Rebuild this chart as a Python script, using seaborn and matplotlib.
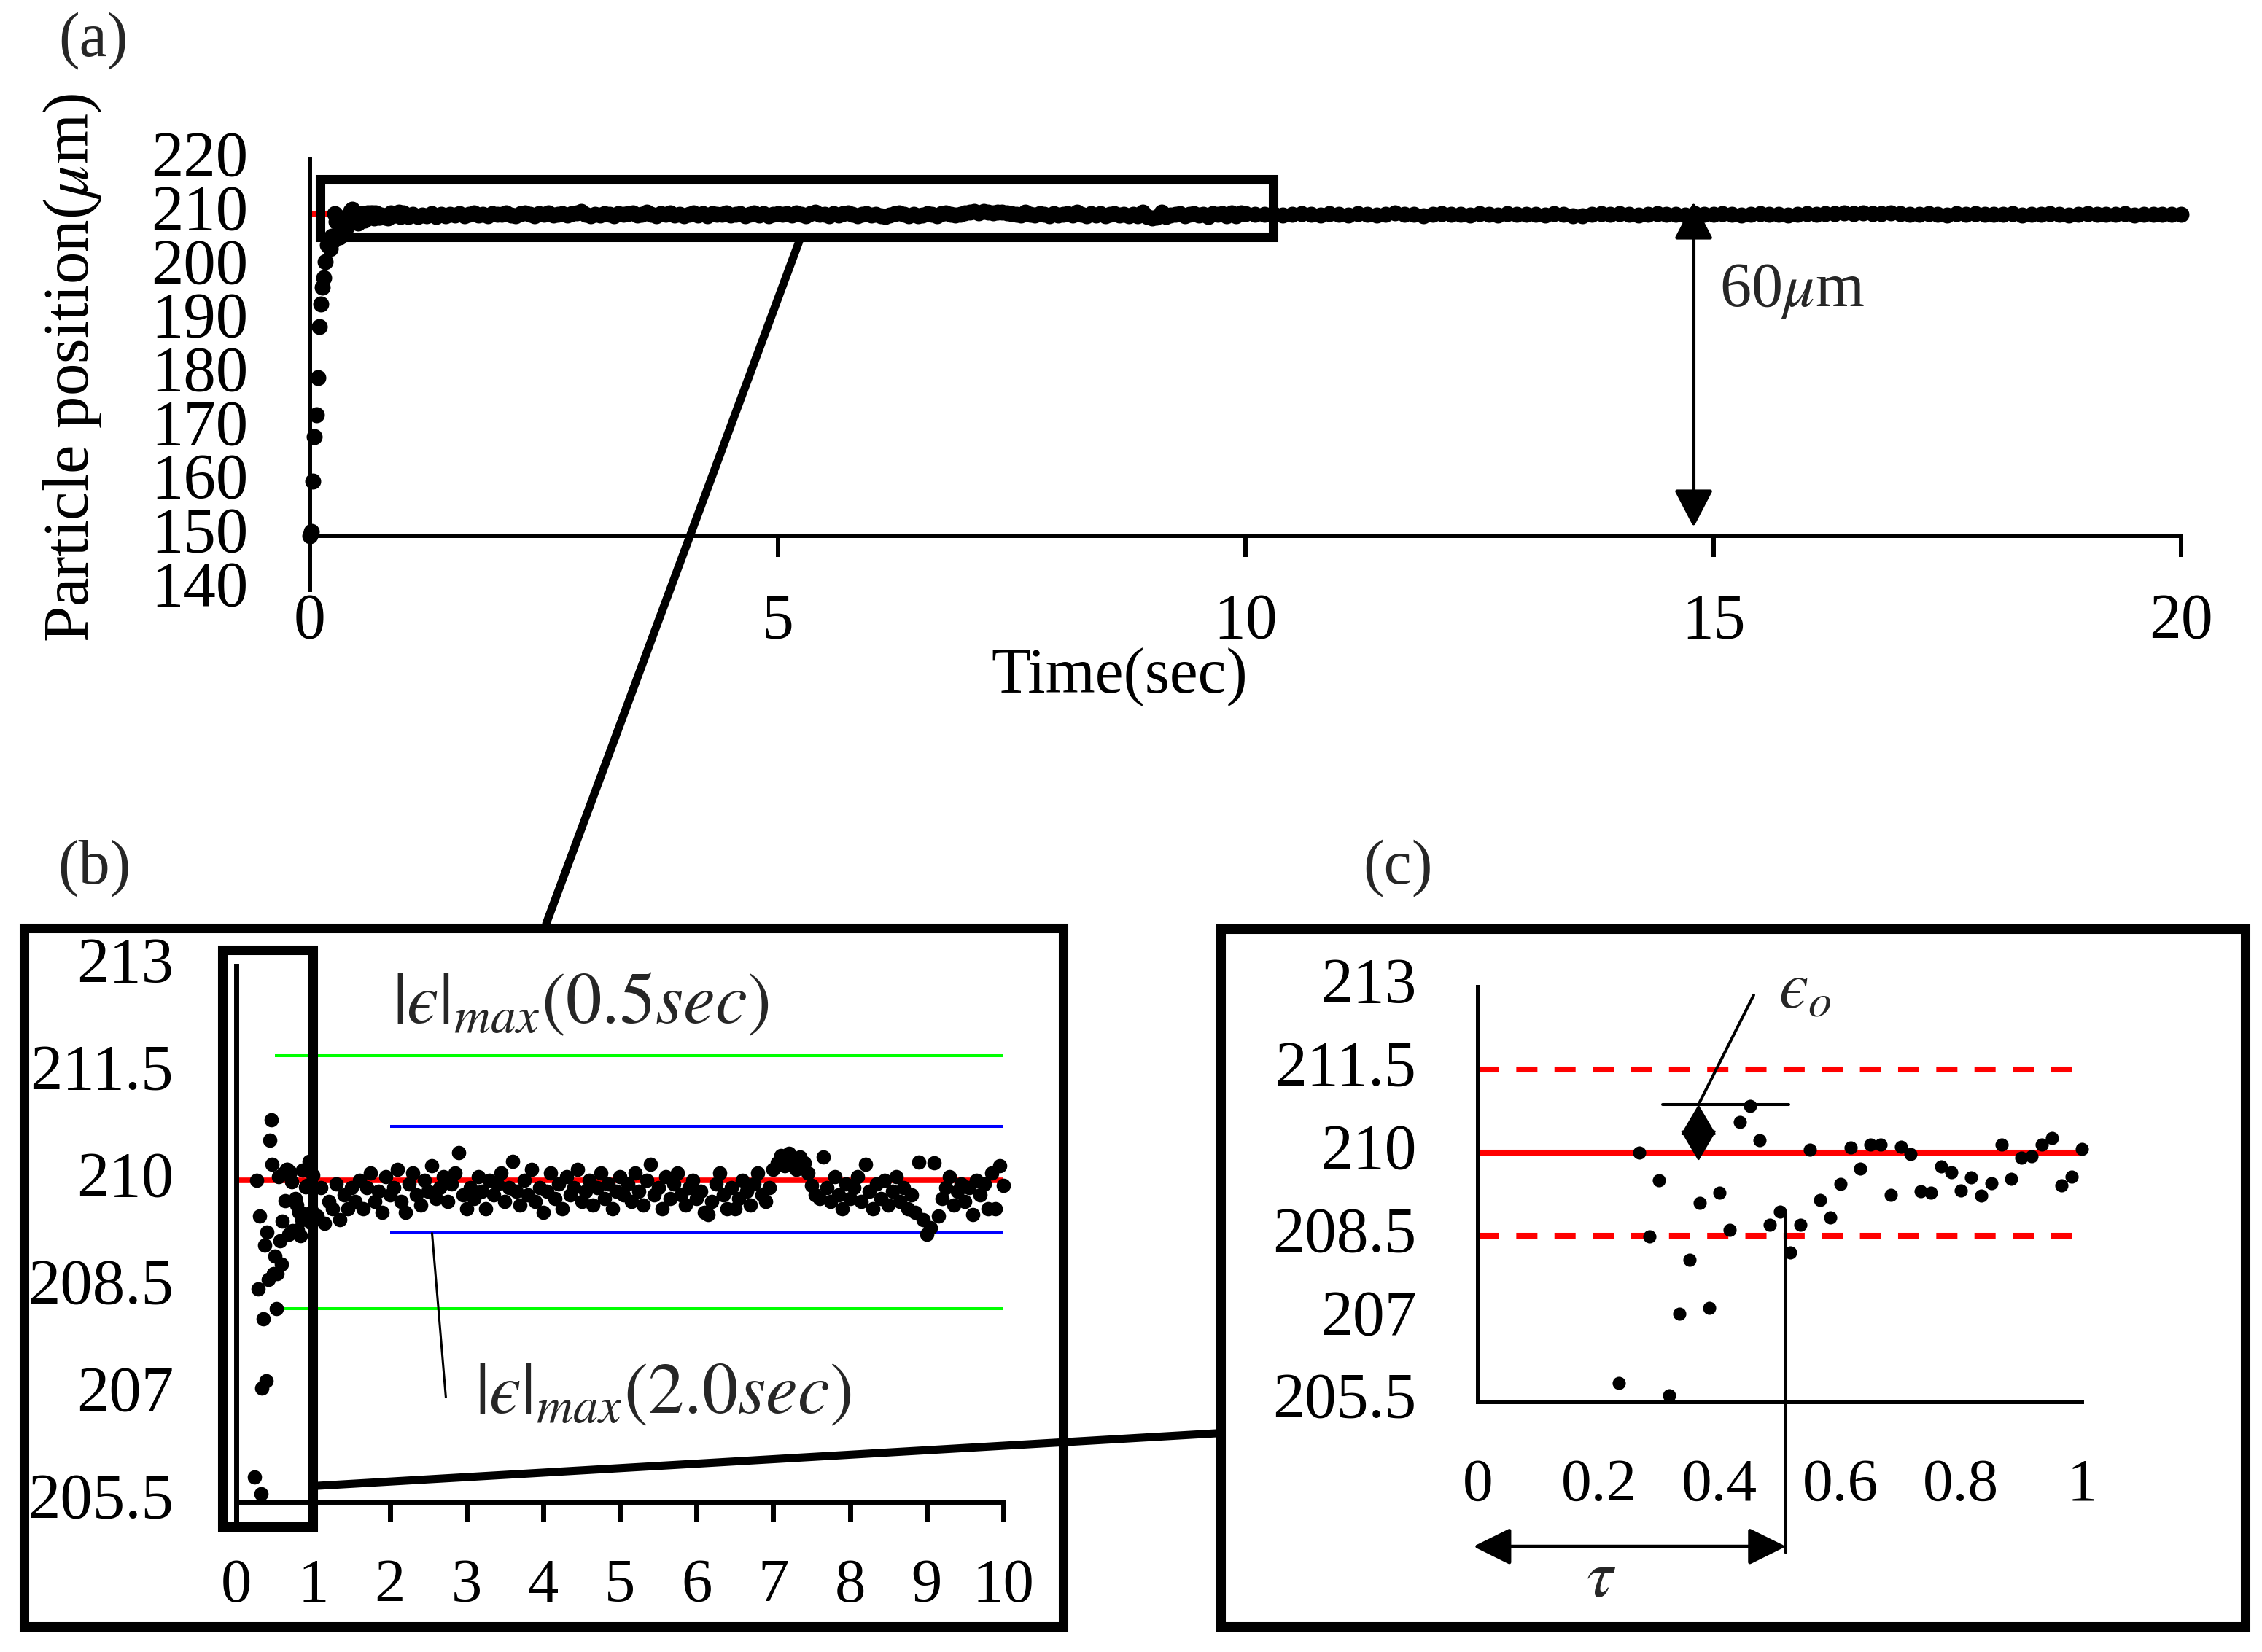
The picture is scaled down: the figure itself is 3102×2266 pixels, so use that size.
import numpy as np
import pandas as pd
import matplotlib
matplotlib.use("Agg")
import matplotlib.pyplot as plt
from matplotlib.patches import Rectangle
from matplotlib.lines import Line2D
import seaborn as sns

# particle position (um)
# 0 - 1 sec, one frame every 1/60 sec
pos_fast = [150.0, 150.8, 160.2, 168.4, 172.6, 179.4, 189.0, 193.2, 196.3, 198.1,
            201.0, 204.2, 205.0, 203.5, 205.84, 205.0, 210.0, 208.48, 209.50, 205.61,
            207.09, 208.06, 209.09, 207.19, 209.28, 208.61, 210.56, 210.85, 210.23, 208.69,
            208.94, 208.20, 208.69, 210.05, 209.15, 208.83, 209.43, 210.10, 209.71, 210.15,
            210.15, 209.24, 210.11, 209.98, 209.30, 209.28, 209.75, 209.65, 209.31, 209.55,
            209.22, 209.45, 210.14, 209.53, 209.91, 209.93, 210.15, 210.27, 209.41, 209.56,
            210.07]
# 1.05 - 10 sec, every 0.05 sec
pos_mid = [209.5, 209.9, 209.4, 209.7, 209.6, 209.95, 209.45, 209.8, 209.6, 209.9,
           209.7, 210.0, 209.6, 209.9, 210.1, 209.7, 209.85, 209.55, 210.05, 209.8,
           209.9, 210.15, 209.7, 209.55, 209.95, 210.1, 209.8, 209.65, 210.0, 209.85,
           210.2, 209.75, 209.9, 210.05, 209.7, 209.95, 210.1, 210.39, 209.8, 209.6,
           209.9, 209.75, 210.05, 209.85, 209.6, 210.0, 209.8, 209.95, 210.1, 209.7,
           209.9, 210.27, 209.85, 209.65, 210.0, 209.8, 210.15, 209.7, 209.9, 209.55,
           209.85, 210.1, 209.75, 209.95, 209.6, 210.05, 209.8, 209.9, 210.15, 209.7,
           209.85, 210.0, 209.65, 209.9, 210.1, 209.75, 209.95, 209.6, 209.85, 210.05,
           209.8, 209.95, 209.7, 210.1, 209.85, 209.65, 210.0, 210.23, 209.8, 209.9,
           209.6, 210.05, 209.75, 209.95, 210.1, 209.8, 209.65, 209.9, 210.0, 209.75,
           209.85, 209.55, 209.52, 209.7, 209.95, 210.1, 209.8, 209.6, 209.9, 209.6,
           209.75, 210.0, 209.85, 209.65, 209.95, 210.1, 209.8, 209.7, 209.9, 210.15,
           210.25, 210.35, 210.2, 210.38, 210.3, 210.15, 210.33, 210.25, 210.1, 209.93,
           209.8, 209.75, 210.33, 209.9, 209.7, 210.05, 209.8, 209.6, 209.95, 209.75,
           209.9, 210.05, 209.7, 210.23, 209.85, 209.6, 209.95, 209.75, 210.0, 209.65,
           209.85, 210.05, 209.7, 209.9, 209.6, 209.8, 209.55, 210.26, 209.45, 209.24,
           209.34, 210.25, 209.5, 209.75, 209.9, 210.05, 209.65, 209.85, 209.95, 209.7,
           209.9, 209.52, 210.0, 209.8, 209.95, 209.6, 210.1, 209.6, 210.2, 209.93]
# 10.1 - 20 sec, every 0.1 sec
pos_slow = [209.9, 209.8, 210.0, 209.75, 209.9, 210.05, 209.8, 209.7, 209.95, 209.85,
            209.75, 210.0, 209.85, 209.7, 209.9, 210.1, 209.8, 209.9, 209.65, 209.85,
            210.0, 209.8, 209.9, 209.75, 209.95, 209.85, 209.7, 210.0, 209.8, 209.9,
            209.85, 209.7, 209.95, 209.8, 209.6, 209.65, 209.85, 209.95, 209.8, 210.05,
            209.9, 209.75, 209.85, 210.0, 209.8, 209.9, 209.7, 209.95, 209.85, 209.8,
            210.0, 209.85, 209.75, 209.9, 210.05, 209.8, 209.9, 209.7, 209.85, 210.0,
            209.9, 209.95, 210.05, 210.1, 210.0, 210.15, 210.05, 209.95, 210.1, 210.0,
            209.9, 209.8, 210.0, 209.85, 209.75, 209.95, 209.85, 210.0, 209.8, 209.9,
            209.85, 210.0, 209.75, 209.9, 209.8, 209.95, 209.85, 209.7, 209.9, 210.0,
            209.8, 209.9, 209.85, 210.0, 209.75, 209.9, 209.85, 209.8, 209.9, 209.85]

t_fast = np.arange(len(pos_fast)) / 60
t_mid = 1 + np.arange(1, len(pos_mid) + 1) * 0.05
t_slow = 10 + np.arange(1, len(pos_slow) + 1) * 0.1

df = pd.DataFrame({"time": np.concatenate([t_fast, t_mid, t_slow]),
                   "pos": pos_fast + pos_mid + pos_slow})

target = 210
band_05 = [211.75, 208.2]    # |e|max after 0.5 sec
band_20 = [210.76, 209.26]   # |e|max after 2.0 sec
band_c = [211.5, 208.5]
eps0 = 210.87
tau = 0.51

yt_a = list(range(140, 221, 10))
yt_bc = [213, 211.5, 210, 208.5, 207, 205.5]
yl_bc = ["213", "211.5", "210", "208.5", "207", "205.5"]
xt_c = [0, 0.2, 0.4, 0.6, 0.8, 1]
xl_c = ["0", "0.2", "0.4", "0.6", "0.8", "1"]

sns.set_theme(style="ticks")
plt.rcParams["font.family"] = ["Liberation Serif", "DejaVu Serif"]
plt.rcParams["mathtext.fontset"] = "stix"

W, H = 3102, 2266
def box(x0, y0, x1, y1):
    return [x0 / W, 1 - y1 / H, (x1 - x0) / W, (y1 - y0) / H]

fig = plt.figure(figsize=(W / 100, H / 100), dpi=100)
ax_a = fig.add_axes(box(425, 219.3, 2991, 808.7))
ax_b = fig.add_axes(box(324.3, 1325.3, 1376, 2089))
ax_c = fig.add_axes(box(2027, 1353.5, 2855, 1922.5))

for ax in (ax_a, ax_b, ax_c):
    ax.patch.set_visible(False)
    ax.spines[["top", "right"]].set_visible(False)
    for s in ("left", "bottom"):
        ax.spines[s].set_color("black")

# (a) whole run
ax_a.axhline(target, color="red", lw=5.8, zorder=1)
sns.scatterplot(data=df, x="time", y="pos", ax=ax_a, color="black", s=250,
                linewidth=0, zorder=3, legend=False, clip_on=False)
ax_a.set_xlim(0, 20)
ax_a.set_ylim(140, 220)
ax_a.spines["bottom"].set_position(("data", 150))
ax_a.spines[["left", "bottom"]].set_linewidth(4.3)
ax_a.set_xticks([0, 5, 10, 15, 20])
ax_a.set_yticks(yt_a)
ax_a.tick_params(axis="x", direction="out", length=21, width=4.3, pad=35, labelsize=63, colors="black")
ax_a.tick_params(axis="y", length=0, pad=61, labelsize=64, colors="black")
ax_a.set_xlabel("Time(sec)", fontsize=63, color="black")
ax_a.xaxis.label.set_va("center")
ax_a.xaxis.set_label_coords(0.4326, -0.204)
ax_a.set_ylabel(r"Particle position($\mu$m)", fontsize=64, color="black")
ax_a.yaxis.label.set_va("center")
ax_a.yaxis.set_label_coords(-0.127, 0.517)
ax_a.add_patch(Rectangle((0.11, 205.7), 10.19, 10.7, fill=False, lw=9.4, ec="black",
                         clip_on=False, joinstyle="miter", zorder=4))
ax_a.annotate("", xy=(14.79, 151.6), xytext=(14.79, 212.2),
              arrowprops=dict(arrowstyle="<|-|>,head_length=0.79,head_width=0.41",
                              mutation_scale=40, lw=3.6, color="black", shrinkA=0, shrinkB=0))
ax_a.text(15.07, 192.76, r"60$\mu$m", fontsize=62, ha="left", va="baseline")

# (b) first 10 sec
df_b = df[(df.time <= 10) & (df.pos >= 205.5)]
ax_b.hlines(target, 0, 10, color="red", lw=5.5, zorder=1)
ax_b.hlines(band_05, 0.5, 10, color="#00ff00", lw=2.9, zorder=1)
ax_b.hlines(band_20, 2, 10, color="#0000ff", lw=2.9, zorder=1)
sns.scatterplot(data=df_b, x="time", y="pos", ax=ax_b, color="black", s=200,
                linewidth=0, zorder=3, legend=False, clip_on=False)
ax_b.set_xlim(0, 10)
ax_b.set_ylim(205.2, 213)
ax_b.spines["bottom"].set_position(("data", 205.5))
ax_b.spines[["left", "bottom"]].set_linewidth(5)
ax_b.set_xticks(range(0, 11))
ax_b.set_yticks(yt_bc, yl_bc)
ax_b.tick_params(axis="x", direction="out", length=19.4, width=5, pad=37, labelsize=61, colors="black")
ax_b.tick_params(axis="y", length=0, pad=62, labelsize=64, colors="black")
ax_b.set_xlabel("")
ax_b.set_ylabel("")
ax_b.add_patch(Rectangle((-0.18, 205.15), 1.18, 8.08, fill=False, lw=9.4, ec="black",
                         clip_on=False, joinstyle="miter", zorder=4))
ax_b.plot([2.55, 2.73], [band_20[1], 206.96], color="black", lw=2.2, clip_on=False)
ax_b.text(4.49, 212.46, "$|ϵ|_{max}(0.5sec)$", fontsize=71, ha="center", va="center")
ax_b.text(5.56, 206.98, "$|ϵ|_{max}(2.0sec)$", fontsize=71, ha="center", va="center")

# (c) first second
df_c = df[(df.time <= 1) & (df.pos >= 205.5)]
ax_c.hlines(target, 0, 1, color="red", lw=5.8, zorder=1)
for lvl in band_c:
    ax_c.plot([0, 0.983], [lvl, lvl], color="red", lw=5.8, ls=(0, (3.6, 2.9)), zorder=1)
sns.scatterplot(data=df_c, x="time", y="pos", ax=ax_c, color="black", s=170,
                linewidth=0, zorder=3, legend=False, clip_on=False)
ax_c.set_xlim(0, 1)
ax_c.set_ylim(205.5, 213)
ax_c.spines[["left", "bottom"]].set_linewidth(4.3)
ax_c.set_xticks(xt_c, xl_c)
ax_c.set_yticks(yt_bc, yl_bc)
ax_c.tick_params(axis="x", length=0, pad=56, labelsize=60, colors="black")
ax_c.tick_params(axis="y", length=0, pad=61, labelsize=63, colors="black")
ax_c.set_xlabel("")
ax_c.set_ylabel("")
ax_c.plot([0.305, 0.515], [eps0, eps0], color="black", lw=2.9, clip_on=False)
ax_c.annotate("", xy=(0.365, 209.85), xytext=(0.365, eps0),
              arrowprops=dict(arrowstyle="<|-|>,head_length=0.68,head_width=0.4",
                              mutation_scale=40, lw=2, color="black", shrinkA=0, shrinkB=0))
ax_c.plot([0.365, 0.4565], [eps0, 212.85], color="black", lw=2.9, clip_on=False)
ax_c.text(0.541, 212.91, "$ϵ_o$", fontsize=66, ha="center", va="center")
ax_c.plot([tau, tau], [208.91, 202.76], color="black", lw=2.9, clip_on=False)
ax_c.annotate("", xy=(tau, 202.88), xytext=(-0.008, 202.88), annotation_clip=False,
              arrowprops=dict(arrowstyle="<|-|>,head_length=0.79,head_width=0.39",
                              mutation_scale=40, lw=3.6, color="black", shrinkA=0, shrinkB=0))
ax_c.text(0.204, 202.27, r"$\tau$", fontsize=66, ha="center", va="center")

# y tick labels sit a little above their ticks in the original
for ax in (ax_a, ax_b, ax_c):
    for lab in ax.get_yticklabels():
        lab.set_va("center")

# frames, zoom connectors and panel letters
fig.add_artist(Rectangle((33 / W, 1 - 2231 / H), (1458 - 33) / W, (2231 - 1273) / H,
                         fill=False, lw=9.4, ec="black", joinstyle="miter"))
fig.add_artist(Rectangle((1673.5 / W, 1 - 2230.5 / H), (3078.5 - 1673.5) / W, (2230.5 - 1273.5) / H,
                         fill=False, lw=9.4, ec="black", joinstyle="miter"))
fig.add_artist(Line2D([1096 / W, 749 / W], [1 - 331 / H, 1 - 1267 / H], lw=8, color="black"))
fig.add_artist(Line2D([436 / W, 1668 / W], [1 - 2038 / H, 1 - 1966 / H], lw=8, color="black"))
fig.text(128 / W, 1 - 56 / H, "(a)", fontsize=62, ha="center", va="center")
fig.text(129 / W, 1 - 1191 / H, "(b)", fontsize=62, ha="center", va="center")
fig.text(1917 / W, 1 - 1191 / H, "(c)", fontsize=62, ha="center", va="center")

fig.savefig("out.png", dpi=100)
